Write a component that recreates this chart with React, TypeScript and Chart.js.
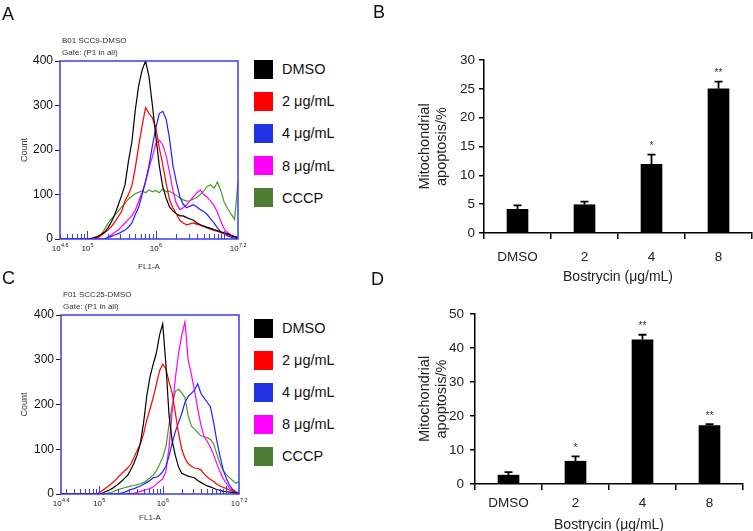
import React, { useEffect, useRef } from 'react';
import { Chart, registerables } from 'chart.js';

Chart.register(...registerables);

// ---------- shared series ----------
const seriesLabels = ['DMSO', '2 μg/mL', '4 μg/mL', '8 μg/mL', 'CCCP'];
const lineColors = ['#000000', '#ff0000', '#2020ff', '#ff00ff', '#4b9a2a'];
const legendColors = ['#000000', '#ff0000', '#2233e6', '#ff00ff', '#4e7d34'];

// ---------- Panel A (SCC9) flow histogram, x in log10(FL1-A) ----------
const fl1GridA = [4.6, 4.65, 4.7, 4.75, 4.8, 4.85, 4.9, 4.95, 5.0, 5.05, 5.1, 5.15, 5.2, 5.25, 5.3, 5.35, 5.4, 5.45, 5.5, 5.55, 5.6, 5.65, 5.7, 5.75, 5.8, 5.85, 5.9, 5.95, 6.0, 6.05, 6.1, 6.15, 6.2, 6.25, 6.3, 6.35, 6.4, 6.45, 6.5, 6.55, 6.6, 6.65, 6.7, 6.75, 6.8, 6.85, 6.9, 6.95, 7.0, 7.05, 7.1, 7.15, 7.2];
const countA_DMSO = [0, 0, 0, 0, 0, 0, 0, 0, 0, 1, 3, 6, 10, 15, 25, 38, 55, 76, 98, 122, 175, 218, 290, 345, 380, 400, 365, 300, 230, 165, 118, 92, 72, 63, 57, 52, 52, 48, 45, 42, 36, 32, 29, 26, 24, 21, 19, 16, 14, 12, 8, 5, 2];
const countA_2 = [0, 0, 0, 0, 0, 0, 0, 0, 0, 0, 0, 3, 8, 14, 20, 28, 38, 50, 62, 86, 100, 120, 160, 210, 255, 295, 282, 272, 250, 205, 168, 125, 88, 70, 56, 42, 36, 32, 34, 36, 33, 31, 28, 25, 22, 19, 17, 14, 12, 10, 7, 5, 3];
const countA_4 = [0, 0, 0, 0, 0, 0, 0, 0, 0, 0, 0, 0, 0, 0, 3, 6, 9, 12, 16, 20, 27, 36, 55, 72, 100, 130, 165, 210, 250, 282, 287, 270, 225, 165, 128, 95, 78, 70, 74, 77, 72, 66, 62, 55, 45, 36, 25, 16, 11, 7, 4, 2, 1];
const countA_8 = [0, 0, 0, 0, 0, 0, 0, 0, 0, 0, 0, 0, 0, 0, 4, 9, 15, 20, 28, 36, 44, 52, 65, 85, 105, 128, 160, 185, 215, 222, 212, 188, 150, 108, 80, 66, 70, 77, 86, 95, 104, 110, 100, 94, 85, 75, 60, 40, 22, 14, 9, 6, 4];
const countA_CCCP = [0, 0, 0, 0, 0, 0, 0, 0, 0, 0, 0, 3, 10, 22, 35, 45, 53, 62, 72, 80, 90, 96, 102, 105, 108, 104, 110, 106, 109, 104, 112, 106, 108, 102, 98, 92, 88, 85, 86, 90, 94, 100, 108, 118, 122, 114, 128, 108, 82, 68, 56, 44, 128];
const labelTicksA = [4.6, 5, 6, 7.2];

// ---------- Panel C (SCC25) flow histogram ----------
const fl1GridC = [4.4, 4.45, 4.5, 4.55, 4.6, 4.65, 4.7, 4.75, 4.8, 4.85, 4.9, 4.95, 5.0, 5.05, 5.1, 5.15, 5.2, 5.25, 5.3, 5.35, 5.4, 5.45, 5.5, 5.55, 5.6, 5.65, 5.7, 5.75, 5.8, 5.85, 5.9, 5.95, 6.0, 6.05, 6.1, 6.15, 6.2, 6.25, 6.3, 6.35, 6.4, 6.45, 6.5, 6.55, 6.6, 6.65, 6.7, 6.75, 6.8, 6.85, 6.9, 6.95, 7.0, 7.05, 7.1, 7.15, 7.2];
const countC_DMSO = [0, 0, 0, 0, 0, 0, 0, 0, 0, 0, 0, 0, 0, 2, 5, 8, 12, 17, 22, 28, 35, 42, 55, 70, 88, 115, 160, 220, 262, 290, 315, 355, 380, 290, 175, 118, 85, 60, 46, 43, 40, 38, 36, 30, 26, 22, 18, 16, 13, 10, 8, 6, 5, 4, 3, 2, 1];
const countC_2 = [0, 0, 0, 0, 0, 0, 0, 0, 0, 0, 0, 0, 3, 8, 13, 18, 24, 30, 38, 45, 52, 58, 67, 82, 98, 112, 135, 165, 190, 215, 245, 275, 290, 280, 250, 225, 180, 135, 100, 80, 68, 62, 58, 57, 54, 45, 38, 33, 28, 22, 18, 15, 12, 9, 6, 4, 2];
const countC_4 = [0, 0, 0, 0, 0, 0, 0, 0, 0, 0, 0, 0, 0, 0, 0, 0, 0, 0, 0, 2, 4, 7, 10, 12, 15, 18, 22, 26, 30, 36, 38, 42, 50, 62, 85, 115, 140, 160, 180, 205, 218, 225, 232, 246, 225, 215, 205, 195, 160, 120, 85, 55, 35, 20, 10, 5, 2];
const countC_8 = [0, 0, 0, 0, 0, 0, 0, 0, 0, 0, 0, 0, 0, 0, 0, 0, 0, 0, 0, 0, 0, 0, 1, 2, 4, 6, 8, 10, 12, 16, 22, 28, 34, 50, 105, 185, 260, 315, 355, 385, 300, 268, 232, 190, 155, 128, 118, 105, 88, 68, 50, 35, 24, 13, 7, 4, 2];
const countC_CCCP = [0, 0, 0, 0, 0, 0, 0, 0, 0, 0, 0, 0, 0, 0, 0, 2, 4, 7, 10, 12, 14, 16, 18, 19, 21, 23, 26, 30, 36, 42, 52, 66, 82, 105, 155, 200, 230, 234, 226, 215, 175, 152, 145, 138, 130, 128, 126, 122, 112, 90, 68, 52, 44, 36, 30, 24, 28];
const labelTicksC = [4.4, 5, 6, 7.2];

// ---------- Panels B and D bar charts ----------
const doseLabels = ['DMSO', '2', '4', '8'];
const apoptosisB = [4.1, 4.9, 11.9, 25.0];
const errorB = [0.7, 0.55, 1.7, 1.25];
const signifB = ['', '', '*', '**'];
const apoptosisD = [2.6, 6.7, 42.4, 17.2];
const errorD = [0.9, 1.4, 1.5, 0.4];
const signifD = ['', '*', '**', '**'];

const FONT = 'Arial, "Liberation Sans", Helvetica, sans-serif';
const FRAME_BLUE = '#3b3bef';

// ---------- plugins ----------
const flowFramePlugin = {
  id: 'flowFrame',
  afterDraw(chart: any, _args: any, opts: any) {
    const { ctx, chartArea: a } = chart;
    const xs = chart.scales.x;
    ctx.save();
    // blue frame
    ctx.strokeStyle = FRAME_BLUE;
    ctx.lineWidth = 1.5;
    ctx.strokeRect(a.left, a.top, a.right - a.left, a.bottom - a.top);
    // log ticks inside bottom edge
    ctx.lineWidth = 1;
    for (let n = 4; n <= 7; n++) {
      for (let k = 1; k <= 9; k++) {
        const lv = n + Math.log10(k);
        if (lv < xs.min - 1e-9 || lv > xs.max + 1e-9) continue;
        const px = Math.round(xs.getPixelForValue(lv)) + 0.5;
        const len = k === 1 ? 8 : 5;
        ctx.beginPath();
        ctx.moveTo(px, a.bottom);
        ctx.lineTo(px, a.bottom - len);
        ctx.stroke();
      }
    }
    // 10^x labels
    ctx.fillStyle = '#222';
    ctx.textBaseline = 'middle';
    ctx.textAlign = 'left';
    for (const v of opts.labelTicks as number[]) {
      const px = xs.getPixelForValue(v);
      const base = '10';
      const exp = String(v);
      ctx.font = `8px ${FONT}`;
      const w1 = ctx.measureText(base).width;
      ctx.font = `5.5px ${FONT}`;
      const w2 = ctx.measureText(exp).width;
      const x0 = px - (w1 + w2) / 2;
      ctx.font = `8px ${FONT}`;
      ctx.fillText(base, x0, a.bottom + 10);
      ctx.font = `5.5px ${FONT}`;
      ctx.fillText(exp, x0 + w1 + 0.3, a.bottom + 6.5);
    }
    // header text
    ctx.font = `8px ${FONT}`;
    ctx.fillStyle = '#333';
    ctx.fillText(opts.header[0], a.left + 2, a.top - 20);
    ctx.fillText(opts.header[1], a.left + 2, a.top - 8);
    ctx.restore();
  },
};

const errorBarPlugin = {
  id: 'errorBars',
  afterDatasetsDraw(chart: any, _args: any, opts: any) {
    const { ctx } = chart;
    const ys = chart.scales.y;
    const meta = chart.getDatasetMeta(0);
    const values = chart.data.datasets[0].data as number[];
    ctx.save();
    ctx.strokeStyle = '#000';
    ctx.lineWidth = 1.8;
    meta.data.forEach((bar: any, i: number) => {
      const v = values[i];
      const e = opts.errors[i];
      const yTop = ys.getPixelForValue(v + e);
      const yBar = ys.getPixelForValue(v);
      ctx.beginPath();
      ctx.moveTo(bar.x, yBar);
      ctx.lineTo(bar.x, yTop);
      ctx.moveTo(bar.x - 4, yTop);
      ctx.lineTo(bar.x + 4, yTop);
      ctx.stroke();
      const mark = opts.marks[i];
      if (mark) {
        ctx.fillStyle = '#333';
        ctx.font = `10px ${FONT}`;
        ctx.textAlign = 'center';
        ctx.textBaseline = 'middle';
        ctx.fillText(mark, bar.x, yTop - 8);
      }
    });
    ctx.restore();
  },
};

// ---------- configs ----------
function flowConfig(
  grid: number[],
  series: number[][],
  labelTicks: number[],
  header: string[],
  yWidth: number,
  xHeight: number,
  padTop: number,
  padRight: number,
  xTitlePad: number
): any {
  return {
    type: 'line',
    data: {
      datasets: series.map((s, i) => ({
        label: seriesLabels[i],
        data: s.map((c, j) => ({ x: grid[j], y: c })),
        borderColor: lineColors[i],
        borderWidth: 1.2,
        pointRadius: 0,
        fill: false,
        tension: 0,
      })),
    },
    options: {
      responsive: false,
      animation: false,
      events: [],
      layout: { autoPadding: false, padding: { top: padTop, right: padRight, left: 0, bottom: 0 } },
      plugins: {
        legend: { display: false },
        tooltip: { enabled: false },
        flowFrame: { labelTicks, header },
      },
      scales: {
        x: {
          type: 'linear',
          min: grid[0],
          max: grid[grid.length - 1],
          ticks: { display: false },
          grid: { display: false },
          border: { display: false },
          title: { display: true, text: 'FL1-A', color: '#333', font: { family: FONT, size: 8 }, padding: { top: 0, bottom: xTitlePad } },
          afterFit: (s: any) => { s.height = xHeight; },
        },
        y: {
          min: 0,
          max: 400,
          ticks: { stepSize: 100, color: '#111', font: { family: FONT, size: 12 }, padding: 2 },
          grid: { drawOnChartArea: false, tickLength: 5, color: '#222' },
          border: { display: false },
          title: { display: true, text: 'Count', color: '#333', font: { family: FONT, size: 9 }, padding: { top: 19.6, bottom: 0 } },
          afterFit: (s: any) => { s.width = yWidth; },
        },
      },
    },
    plugins: [flowFramePlugin],
  };
}

function barConfig(
  values: number[],
  errors: number[],
  marks: string[],
  yMax: number,
  yStep: number,
  yWidth: number,
  xHeight: number,
  padTop: number,
  padRight: number,
  yTickPad: number,
  xTickPad: number,
  xTitlePad: number
): any {
  return {
    type: 'bar',
    data: {
      labels: doseLabels,
      datasets: [{ data: values, backgroundColor: '#000', barThickness: 21 }],
    },
    options: {
      responsive: false,
      animation: false,
      events: [],
      layout: { autoPadding: false, padding: { top: padTop, right: padRight, left: 0, bottom: 0 } },
      plugins: {
        legend: { display: false },
        tooltip: { enabled: false },
        errorBars: { errors, marks },
      },
      scales: {
        x: {
          grid: { display: true, drawOnChartArea: false, tickLength: 6, color: '#000', lineWidth: 1.5, offset: true },
          border: { display: true, color: '#000', width: 1.5 },
          ticks: { color: '#222', font: { family: FONT, size: 13.5 }, padding: xTickPad },
          title: { display: true, text: 'Bostrycin (μg/mL)', color: '#222', font: { family: FONT, size: 14 }, padding: { top: 0, bottom: xTitlePad } },
          afterFit: (s: any) => { s.height = xHeight; },
        },
        y: {
          min: 0,
          max: yMax,
          ticks: { stepSize: yStep, color: '#222', font: { family: FONT, size: 13.5 }, padding: yTickPad },
          grid: { drawOnChartArea: false, tickLength: 5, color: '#000', lineWidth: 1.5 },
          border: { display: true, color: '#000', width: 1.5 },
          title: {
            display: true,
            text: ['Mitochondrial', 'apoptosis/%'],
            color: '#222',
            font: { family: FONT, size: 14.5, lineHeight: 1.17 },
            padding: { top: 46.5, bottom: 0 },
          },
          afterFit: (s: any) => { s.width = yWidth; },
        },
      },
    },
    plugins: [errorBarPlugin],
  };
}

// ---------- components ----------
function ChartBox({ left, top, width, height, make }: { left: number; top: number; width: number; height: number; make: () => any }) {
  const ref = useRef<HTMLCanvasElement>(null);
  useEffect(() => {
    const chart = new Chart(ref.current as HTMLCanvasElement, make());
    return () => chart.destroy();
  }, []);
  return <canvas ref={ref} width={width} height={height} style={{ position: 'absolute', left, top, width, height }} />;
}

function Legend({ left, top, step }: { left: number; top: number; step: number }) {
  return (
    <div style={{ position: 'absolute', left, top }}>
      {seriesLabels.map((l, i) => (
        <div key={l} style={{ position: 'absolute', left: 0, top: i * step, height: 20, display: 'flex', alignItems: 'center', whiteSpace: 'nowrap' }}>
          <div style={{ width: 19, height: 19, background: legendColors[i] }} />
          <span style={{ marginLeft: 9, fontSize: 14.5, color: '#111', fontFamily: FONT }}>{l}</span>
        </div>
      ))}
    </div>
  );
}

function Letter({ text, left, top }: { text: string; left: number; top: number }) {
  return (
    <div style={{ position: 'absolute', left, top, fontSize: 18, lineHeight: '18px', fontFamily: FONT, color: '#111' }}>{text}</div>
  );
}

export default function App() {
  return (
    <div style={{ position: 'absolute', left: 0, top: 0, width: 753, height: 531, background: '#fff', overflow: 'hidden' }}>
      <ChartBox
        left={0}
        top={0}
        width={250}
        height={275}
        make={() =>
          flowConfig(fl1GridA, [countA_DMSO, countA_2, countA_4, countA_8, countA_CCCP], labelTicksA, ['B01 SCC9-DMSO', 'Gate: (P1 in all)'], 60, 36, 61, 12, 3.5)
        }
      />
      <ChartBox
        left={0}
        top={265}
        width={250}
        height={266}
        make={() =>
          flowConfig(fl1GridC, [countC_DMSO, countC_2, countC_4, countC_8, countC_CCCP], labelTicksC, ['F01 SCC25-DMSO', 'Gate: (P1 in all)'], 61, 37, 50, 11, 8.5)
        }
      />
      <ChartBox left={370} top={0} width={383} height={290} make={() => barConfig(apoptosisB, errorB, signifB, 30, 5, 114, 57, 60, 1, 4, 10, 4)} />
      <ChartBox left={370} top={265} width={383} height={266} make={() => barConfig(apoptosisD, errorD, signifD, 50, 10, 105, 47, 49, 10, 6, 5.5, -3)} />
      <Legend left={254} top={59} step={32.2} />
      <Legend left={254} top={318} step={32} />
      <Letter text="A" left={2} top={5} />
      <Letter text="B" left={373} top={3} />
      <Letter text="C" left={2} top={269} />
      <Letter text="D" left={371} top={270} />
    </div>
  );
}
